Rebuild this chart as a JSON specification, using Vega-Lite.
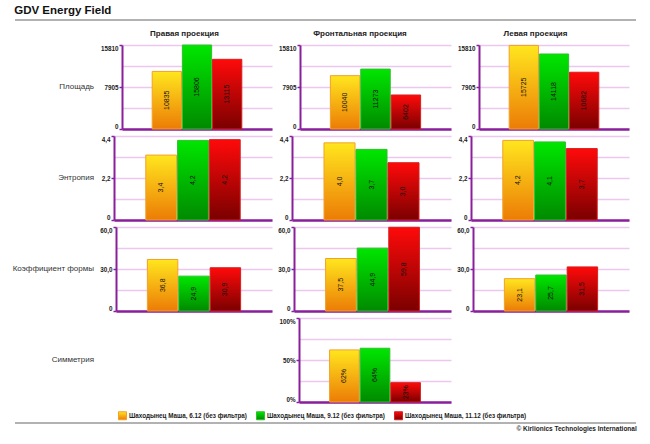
{
  "$schema": "https://vega.github.io/schema/vega-lite/v6.json",
  "padding": {"left": 12, "top": 4, "right": 4, "bottom": 2},
  "params": [
    {"name": "gY", "expr": "{gradient: 'linear', x1: 0, y1: 0, x2: 0, y2: 1, stops: [{offset: 0, color: '#ffe61e'}, {offset: 1, color: '#ec7c06'}]}"},
    {"name": "gG", "expr": "{gradient: 'linear', x1: 0, y1: 0, x2: 0, y2: 1, stops: [{offset: 0, color: '#00e600'}, {offset: 1, color: '#008a00'}]}"},
    {"name": "gR", "expr": "{gradient: 'linear', x1: 0, y1: 0, x2: 0, y2: 1, stops: [{offset: 0, color: '#ff0a0a'}, {offset: 1, color: '#7a0000'}]}"}
  ],
  "datasets": {
    "gdv": [
      {"metric": "Площадь", "proj": "Правая проекция", "series": "6.12", "value": 10835},
      {"metric": "Площадь", "proj": "Правая проекция", "series": "9.12", "value": 15806},
      {"metric": "Площадь", "proj": "Правая проекция", "series": "11.12", "value": 13115},
      {"metric": "Площадь", "proj": "Фронтальная проекция", "series": "6.12", "value": 10040},
      {"metric": "Площадь", "proj": "Фронтальная проекция", "series": "9.12", "value": 11273},
      {"metric": "Площадь", "proj": "Фронтальная проекция", "series": "11.12", "value": 6402},
      {"metric": "Площадь", "proj": "Левая проекция", "series": "6.12", "value": 15725},
      {"metric": "Площадь", "proj": "Левая проекция", "series": "9.12", "value": 14118},
      {"metric": "Площадь", "proj": "Левая проекция", "series": "11.12", "value": 10682},
      {"metric": "Энтропия", "proj": "Правая проекция", "series": "6.12", "value": 3.4},
      {"metric": "Энтропия", "proj": "Правая проекция", "series": "9.12", "value": 4.17},
      {"metric": "Энтропия", "proj": "Правая проекция", "series": "11.12", "value": 4.21},
      {"metric": "Энтропия", "proj": "Фронтальная проекция", "series": "6.12", "value": 4.04},
      {"metric": "Энтропия", "proj": "Фронтальная проекция", "series": "9.12", "value": 3.7},
      {"metric": "Энтропия", "proj": "Фронтальная проекция", "series": "11.12", "value": 3.0},
      {"metric": "Энтропия", "proj": "Левая проекция", "series": "6.12", "value": 4.17},
      {"metric": "Энтропия", "proj": "Левая проекция", "series": "9.12", "value": 4.09},
      {"metric": "Энтропия", "proj": "Левая проекция", "series": "11.12", "value": 3.74},
      {"metric": "Коэффициент формы", "proj": "Правая проекция", "series": "6.12", "value": 36.8},
      {"metric": "Коэффициент формы", "proj": "Правая проекция", "series": "9.12", "value": 24.9},
      {"metric": "Коэффициент формы", "proj": "Правая проекция", "series": "11.12", "value": 30.9},
      {"metric": "Коэффициент формы", "proj": "Фронтальная проекция", "series": "6.12", "value": 37.5},
      {"metric": "Коэффициент формы", "proj": "Фронтальная проекция", "series": "9.12", "value": 44.9},
      {"metric": "Коэффициент формы", "proj": "Фронтальная проекция", "series": "11.12", "value": 59.8},
      {"metric": "Коэффициент формы", "proj": "Левая проекция", "series": "6.12", "value": 23.1},
      {"metric": "Коэффициент формы", "proj": "Левая проекция", "series": "9.12", "value": 25.7},
      {"metric": "Коэффициент формы", "proj": "Левая проекция", "series": "11.12", "value": 31.5},
      {"metric": "Симметрия", "proj": "Фронтальная проекция", "series": "6.12", "value": 0.62},
      {"metric": "Симметрия", "proj": "Фронтальная проекция", "series": "9.12", "value": 0.64},
      {"metric": "Симметрия", "proj": "Фронтальная проекция", "series": "11.12", "value": 0.23}
    ]
  },
  "spacing": 0,
  "vconcat": [
    {
      "width": 621,
      "height": 8,
      "title": {"text": "GDV Energy Field", "anchor": "start", "fontSize": 11.5, "fontWeight": "bold", "color": "#111111", "offset": 3},
      "data": {"values": [{"a": 0, "b": 1}]},
      "mark": {"type": "rule", "color": "#999999", "strokeWidth": 1.5},
      "encoding": {
        "x": {"field": "a", "type": "quantitative", "scale": {"domain": [0, 1]}, "axis": null},
        "x2": {"field": "b"},
        "y": {"datum": 1, "type": "quantitative", "scale": {"domain": [0, 1]}, "axis": null}
      }
    },
    {
      "spacing": 5,
      "vconcat": [
        {
          "spacing": 3,
          "hconcat": [
            {"width": 79, "height": 8, "data": {"values": [{}]}, "mark": {"type": "text", "text": ""}},
            {"width": 175, "height": 8, "data": {"values": [{}]}, "mark": {"type": "text", "text": "Правая проекция", "fontSize": 8, "fontWeight": "bold", "color": "#222222"}},
            {"width": 176, "height": 8, "data": {"values": [{}]}, "mark": {"type": "text", "text": "Фронтальная проекция", "fontSize": 8, "fontWeight": "bold", "color": "#222222", "dx": -3}},
            {"width": 175, "height": 8, "data": {"values": [{}]}, "mark": {"type": "text", "text": "Левая проекция", "fontSize": 8, "fontWeight": "bold", "color": "#222222", "dx": -6}}
          ]
        },
        {
          "spacing": 3,
          "hconcat": [
            {"width": 79, "height": 84, "data": {"values": [{}]}, "mark": {"type": "text", "text": "Площадь", "align": "right", "fontSize": 8, "color": "#333333"},
             "encoding": {"x": {"datum": 1, "type": "quantitative", "scale": {"domain": [0, 1]}, "axis": null}}},
            {
              "width": 150, "height": 84,
              "data": {"name": "gdv"},
              "transform": [{"filter": "datum.metric == 'Площадь' && datum.proj == 'Правая проекция'"}],
              "encoding": {"x": {"field": "series", "type": "nominal", "sort": null, "title": null, "scale": {"paddingInner": 0.03, "paddingOuter": 1.05}}},
              "layer": [
                {"mark": {"type": "bar", "strokeWidth": 1},
                 "encoding": {
                   "y": {"field": "value", "type": "quantitative", "title": null, "scale": {"domain": [0, 15810], "nice": false},
                         "axis": {"values": [0, 3952.5, 7905, 11857.5, 15810], "format": "d", "minExtent": 25, "maxExtent": 25,
                                  "labelExpr": "datum.index == 0.25 || datum.index == 0.75 ? '' : datum.label",
                                  "tickOpacity": {"condition": {"test": "datum.index == 0.25 || datum.index == 0.75", "value": 0}, "value": 1}}},
                   "color": {"field": "series", "type": "nominal", "title": null, "scale": {"domain": ["6.12", "9.12", "11.12"], "range": [{"expr": "gY"}, {"expr": "gG"}, {"expr": "gR"}]},
                             "legend": {"labelExpr": "'Шаходынец Маша, ' + datum.label + ' (без фильтра)'", "orient": "none", "legendX": 103, "legendY": 381}},
                   "stroke": {"field": "series", "type": "nominal", "title": null, "scale": {"domain": ["6.12", "9.12", "11.12"], "range": ["#f3a02a", "#2fbf2f", "#d81e1e"]},
                              "legend": {"labelExpr": "'Шаходынец Маша, ' + datum.label + ' (без фильтра)'", "orient": "none", "legendX": 103, "legendY": 381}}
                 }},
                {"mark": {"type": "text", "angle": 270, "fontSize": 7, "color": "#111111"},
                 "encoding": {
                   "y": {"field": "value", "type": "quantitative", "scale": {"domain": [0, 31620], "nice": false}, "axis": null},
                   "text": {"field": "value", "type": "quantitative", "format": "d"}
                 }}
              ],
              "resolve": {"scale": {"y": "independent"}}
            },
            {
              "width": 151, "height": 84,
              "data": {"name": "gdv"},
              "transform": [{"filter": "datum.metric == 'Площадь' && datum.proj == 'Фронтальная проекция'"}],
              "encoding": {"x": {"field": "series", "type": "nominal", "sort": null, "title": null, "scale": {"paddingInner": 0.03, "paddingOuter": 1.05}}},
              "layer": [
                {"mark": {"type": "bar", "strokeWidth": 1},
                 "encoding": {
                   "y": {"field": "value", "type": "quantitative", "title": null, "scale": {"domain": [0, 15810], "nice": false},
                         "axis": {"values": [0, 3952.5, 7905, 11857.5, 15810], "format": "d", "minExtent": 25, "maxExtent": 25,
                                  "labelExpr": "datum.index == 0.25 || datum.index == 0.75 ? '' : datum.label",
                                  "tickOpacity": {"condition": {"test": "datum.index == 0.25 || datum.index == 0.75", "value": 0}, "value": 1}}},
                   "color": {"field": "series", "type": "nominal", "title": null, "scale": {"domain": ["6.12", "9.12", "11.12"], "range": [{"expr": "gY"}, {"expr": "gG"}, {"expr": "gR"}]},
                             "legend": {"labelExpr": "'Шаходынец Маша, ' + datum.label + ' (без фильтра)'", "orient": "none", "legendX": 103, "legendY": 381}},
                   "stroke": {"field": "series", "type": "nominal", "title": null, "scale": {"domain": ["6.12", "9.12", "11.12"], "range": ["#f3a02a", "#2fbf2f", "#d81e1e"]},
                              "legend": {"labelExpr": "'Шаходынец Маша, ' + datum.label + ' (без фильтра)'", "orient": "none", "legendX": 103, "legendY": 381}}
                 }},
                {"mark": {"type": "text", "angle": 270, "fontSize": 7, "color": "#111111"},
                 "encoding": {
                   "y": {"field": "value", "type": "quantitative", "scale": {"domain": [0, 31620], "nice": false}, "axis": null},
                   "text": {"field": "value", "type": "quantitative", "format": "d"}
                 }}
              ],
              "resolve": {"scale": {"y": "independent"}}
            },
            {
              "width": 150, "height": 84,
              "data": {"name": "gdv"},
              "transform": [{"filter": "datum.metric == 'Площадь' && datum.proj == 'Левая проекция'"}],
              "encoding": {"x": {"field": "series", "type": "nominal", "sort": null, "title": null, "scale": {"paddingInner": 0.03, "paddingOuter": 1.05}}},
              "layer": [
                {"mark": {"type": "bar", "strokeWidth": 1},
                 "encoding": {
                   "y": {"field": "value", "type": "quantitative", "title": null, "scale": {"domain": [0, 15810], "nice": false},
                         "axis": {"values": [0, 3952.5, 7905, 11857.5, 15810], "format": "d", "minExtent": 25, "maxExtent": 25,
                                  "labelExpr": "datum.index == 0.25 || datum.index == 0.75 ? '' : datum.label",
                                  "tickOpacity": {"condition": {"test": "datum.index == 0.25 || datum.index == 0.75", "value": 0}, "value": 1}}},
                   "color": {"field": "series", "type": "nominal", "title": null, "scale": {"domain": ["6.12", "9.12", "11.12"], "range": [{"expr": "gY"}, {"expr": "gG"}, {"expr": "gR"}]},
                             "legend": {"labelExpr": "'Шаходынец Маша, ' + datum.label + ' (без фильтра)'", "orient": "none", "legendX": 103, "legendY": 381}},
                   "stroke": {"field": "series", "type": "nominal", "title": null, "scale": {"domain": ["6.12", "9.12", "11.12"], "range": ["#f3a02a", "#2fbf2f", "#d81e1e"]},
                              "legend": {"labelExpr": "'Шаходынец Маша, ' + datum.label + ' (без фильтра)'", "orient": "none", "legendX": 103, "legendY": 381}}
                 }},
                {"mark": {"type": "text", "angle": 270, "fontSize": 7, "color": "#111111"},
                 "encoding": {
                   "y": {"field": "value", "type": "quantitative", "scale": {"domain": [0, 31620], "nice": false}, "axis": null},
                   "text": {"field": "value", "type": "quantitative", "format": "d"}
                 }}
              ],
              "resolve": {"scale": {"y": "independent"}}
            }
          ]
        },
        {
          "spacing": 3,
          "hconcat": [
            {"width": 79, "height": 84, "data": {"values": [{}]}, "mark": {"type": "text", "text": "Энтропия", "align": "right", "fontSize": 8, "color": "#333333"},
             "encoding": {"x": {"datum": 1, "type": "quantitative", "scale": {"domain": [0, 1]}, "axis": null}}},
            {
              "width": 158, "height": 84,
              "data": {"name": "gdv"},
              "transform": [{"filter": "datum.metric == 'Энтропия' && datum.proj == 'Правая проекция'"}],
              "encoding": {"x": {"field": "series", "type": "nominal", "sort": null, "title": null, "scale": {"paddingInner": 0.03, "paddingOuter": 1.05}}},
              "layer": [
                {"mark": {"type": "bar", "strokeWidth": 1},
                 "encoding": {
                   "y": {"field": "value", "type": "quantitative", "title": null, "scale": {"domain": [0, 4.4], "nice": false},
                         "axis": {"values": [0, 1.1, 2.2, 3.3, 4.4], "format": ".1f", "minExtent": 17, "maxExtent": 17,
                                  "labelExpr": "datum.index == 0 ? '0' : datum.index == 0.25 || datum.index == 0.75 ? '' : datum.label",
                                  "tickOpacity": {"condition": {"test": "datum.index == 0.25 || datum.index == 0.75", "value": 0}, "value": 1}}},
                   "color": {"field": "series", "type": "nominal", "title": null, "scale": {"domain": ["6.12", "9.12", "11.12"], "range": [{"expr": "gY"}, {"expr": "gG"}, {"expr": "gR"}]},
                             "legend": {"labelExpr": "'Шаходынец Маша, ' + datum.label + ' (без фильтра)'", "orient": "none", "legendX": 103, "legendY": 381}},
                   "stroke": {"field": "series", "type": "nominal", "title": null, "scale": {"domain": ["6.12", "9.12", "11.12"], "range": ["#f3a02a", "#2fbf2f", "#d81e1e"]},
                              "legend": {"labelExpr": "'Шаходынец Маша, ' + datum.label + ' (без фильтра)'", "orient": "none", "legendX": 103, "legendY": 381}}
                 }},
                {"mark": {"type": "text", "angle": 270, "fontSize": 7, "color": "#111111"},
                 "encoding": {
                   "y": {"field": "value", "type": "quantitative", "scale": {"domain": [0, 8.8], "nice": false}, "axis": null},
                   "text": {"field": "value", "type": "quantitative", "format": ".1f"}
                 }}
              ],
              "resolve": {"scale": {"y": "independent"}}
            },
            {
              "width": 159, "height": 84,
              "data": {"name": "gdv"},
              "transform": [{"filter": "datum.metric == 'Энтропия' && datum.proj == 'Фронтальная проекция'"}],
              "encoding": {"x": {"field": "series", "type": "nominal", "sort": null, "title": null, "scale": {"paddingInner": 0.03, "paddingOuter": 1.05}}},
              "layer": [
                {"mark": {"type": "bar", "strokeWidth": 1},
                 "encoding": {
                   "y": {"field": "value", "type": "quantitative", "title": null, "scale": {"domain": [0, 4.4], "nice": false},
                         "axis": {"values": [0, 1.1, 2.2, 3.3, 4.4], "format": ".1f", "minExtent": 17, "maxExtent": 17,
                                  "labelExpr": "datum.index == 0 ? '0' : datum.index == 0.25 || datum.index == 0.75 ? '' : datum.label",
                                  "tickOpacity": {"condition": {"test": "datum.index == 0.25 || datum.index == 0.75", "value": 0}, "value": 1}}},
                   "color": {"field": "series", "type": "nominal", "title": null, "scale": {"domain": ["6.12", "9.12", "11.12"], "range": [{"expr": "gY"}, {"expr": "gG"}, {"expr": "gR"}]},
                             "legend": {"labelExpr": "'Шаходынец Маша, ' + datum.label + ' (без фильтра)'", "orient": "none", "legendX": 103, "legendY": 381}},
                   "stroke": {"field": "series", "type": "nominal", "title": null, "scale": {"domain": ["6.12", "9.12", "11.12"], "range": ["#f3a02a", "#2fbf2f", "#d81e1e"]},
                              "legend": {"labelExpr": "'Шаходынец Маша, ' + datum.label + ' (без фильтра)'", "orient": "none", "legendX": 103, "legendY": 381}}
                 }},
                {"mark": {"type": "text", "angle": 270, "fontSize": 7, "color": "#111111"},
                 "encoding": {
                   "y": {"field": "value", "type": "quantitative", "scale": {"domain": [0, 8.8], "nice": false}, "axis": null},
                   "text": {"field": "value", "type": "quantitative", "format": ".1f"}
                 }}
              ],
              "resolve": {"scale": {"y": "independent"}}
            },
            {
              "width": 158, "height": 84,
              "data": {"name": "gdv"},
              "transform": [{"filter": "datum.metric == 'Энтропия' && datum.proj == 'Левая проекция'"}],
              "encoding": {"x": {"field": "series", "type": "nominal", "sort": null, "title": null, "scale": {"paddingInner": 0.03, "paddingOuter": 1.05}}},
              "layer": [
                {"mark": {"type": "bar", "strokeWidth": 1},
                 "encoding": {
                   "y": {"field": "value", "type": "quantitative", "title": null, "scale": {"domain": [0, 4.4], "nice": false},
                         "axis": {"values": [0, 1.1, 2.2, 3.3, 4.4], "format": ".1f", "minExtent": 17, "maxExtent": 17,
                                  "labelExpr": "datum.index == 0 ? '0' : datum.index == 0.25 || datum.index == 0.75 ? '' : datum.label",
                                  "tickOpacity": {"condition": {"test": "datum.index == 0.25 || datum.index == 0.75", "value": 0}, "value": 1}}},
                   "color": {"field": "series", "type": "nominal", "title": null, "scale": {"domain": ["6.12", "9.12", "11.12"], "range": [{"expr": "gY"}, {"expr": "gG"}, {"expr": "gR"}]},
                             "legend": {"labelExpr": "'Шаходынец Маша, ' + datum.label + ' (без фильтра)'", "orient": "none", "legendX": 103, "legendY": 381}},
                   "stroke": {"field": "series", "type": "nominal", "title": null, "scale": {"domain": ["6.12", "9.12", "11.12"], "range": ["#f3a02a", "#2fbf2f", "#d81e1e"]},
                              "legend": {"labelExpr": "'Шаходынец Маша, ' + datum.label + ' (без фильтра)'", "orient": "none", "legendX": 103, "legendY": 381}}
                 }},
                {"mark": {"type": "text", "angle": 270, "fontSize": 7, "color": "#111111"},
                 "encoding": {
                   "y": {"field": "value", "type": "quantitative", "scale": {"domain": [0, 8.8], "nice": false}, "axis": null},
                   "text": {"field": "value", "type": "quantitative", "format": ".1f"}
                 }}
              ],
              "resolve": {"scale": {"y": "independent"}}
            }
          ]
        },
        {
          "spacing": 3,
          "hconcat": [
            {"width": 79, "height": 84, "data": {"values": [{}]}, "mark": {"type": "text", "text": "Коэффициент формы", "align": "right", "fontSize": 8, "color": "#333333"},
             "encoding": {"x": {"datum": 1, "type": "quantitative", "scale": {"domain": [0, 1]}, "axis": null}}},
            {
              "width": 156, "height": 84,
              "data": {"name": "gdv"},
              "transform": [{"filter": "datum.metric == 'Коэффициент формы' && datum.proj == 'Правая проекция'"}],
              "encoding": {"x": {"field": "series", "type": "nominal", "sort": null, "title": null, "scale": {"paddingInner": 0.03, "paddingOuter": 1.05}}},
              "layer": [
                {"mark": {"type": "bar", "strokeWidth": 1},
                 "encoding": {
                   "y": {"field": "value", "type": "quantitative", "title": null, "scale": {"domain": [0, 60], "nice": false},
                         "axis": {"values": [0, 15, 30, 45, 60], "format": ".1f", "minExtent": 19, "maxExtent": 19,
                                  "labelExpr": "datum.index == 0 ? '0' : datum.index == 0.25 || datum.index == 0.75 ? '' : datum.label",
                                  "tickOpacity": {"condition": {"test": "datum.index == 0.25 || datum.index == 0.75", "value": 0}, "value": 1}}},
                   "color": {"field": "series", "type": "nominal", "title": null, "scale": {"domain": ["6.12", "9.12", "11.12"], "range": [{"expr": "gY"}, {"expr": "gG"}, {"expr": "gR"}]},
                             "legend": {"labelExpr": "'Шаходынец Маша, ' + datum.label + ' (без фильтра)'", "orient": "none", "legendX": 103, "legendY": 381}},
                   "stroke": {"field": "series", "type": "nominal", "title": null, "scale": {"domain": ["6.12", "9.12", "11.12"], "range": ["#f3a02a", "#2fbf2f", "#d81e1e"]},
                              "legend": {"labelExpr": "'Шаходынец Маша, ' + datum.label + ' (без фильтра)'", "orient": "none", "legendX": 103, "legendY": 381}}
                 }},
                {"mark": {"type": "text", "angle": 270, "fontSize": 7, "color": "#111111"},
                 "encoding": {
                   "y": {"field": "value", "type": "quantitative", "scale": {"domain": [0, 120], "nice": false}, "axis": null},
                   "text": {"field": "value", "type": "quantitative", "format": ".1f"}
                 }}
              ],
              "resolve": {"scale": {"y": "independent"}}
            },
            {
              "width": 157, "height": 84,
              "data": {"name": "gdv"},
              "transform": [{"filter": "datum.metric == 'Коэффициент формы' && datum.proj == 'Фронтальная проекция'"}],
              "encoding": {"x": {"field": "series", "type": "nominal", "sort": null, "title": null, "scale": {"paddingInner": 0.03, "paddingOuter": 1.05}}},
              "layer": [
                {"mark": {"type": "bar", "strokeWidth": 1},
                 "encoding": {
                   "y": {"field": "value", "type": "quantitative", "title": null, "scale": {"domain": [0, 60], "nice": false},
                         "axis": {"values": [0, 15, 30, 45, 60], "format": ".1f", "minExtent": 19, "maxExtent": 19,
                                  "labelExpr": "datum.index == 0 ? '0' : datum.index == 0.25 || datum.index == 0.75 ? '' : datum.label",
                                  "tickOpacity": {"condition": {"test": "datum.index == 0.25 || datum.index == 0.75", "value": 0}, "value": 1}}},
                   "color": {"field": "series", "type": "nominal", "title": null, "scale": {"domain": ["6.12", "9.12", "11.12"], "range": [{"expr": "gY"}, {"expr": "gG"}, {"expr": "gR"}]},
                             "legend": {"labelExpr": "'Шаходынец Маша, ' + datum.label + ' (без фильтра)'", "orient": "none", "legendX": 103, "legendY": 381}},
                   "stroke": {"field": "series", "type": "nominal", "title": null, "scale": {"domain": ["6.12", "9.12", "11.12"], "range": ["#f3a02a", "#2fbf2f", "#d81e1e"]},
                              "legend": {"labelExpr": "'Шаходынец Маша, ' + datum.label + ' (без фильтра)'", "orient": "none", "legendX": 103, "legendY": 381}}
                 }},
                {"mark": {"type": "text", "angle": 270, "fontSize": 7, "color": "#111111"},
                 "encoding": {
                   "y": {"field": "value", "type": "quantitative", "scale": {"domain": [0, 120], "nice": false}, "axis": null},
                   "text": {"field": "value", "type": "quantitative", "format": ".1f"}
                 }}
              ],
              "resolve": {"scale": {"y": "independent"}}
            },
            {
              "width": 156, "height": 84,
              "data": {"name": "gdv"},
              "transform": [{"filter": "datum.metric == 'Коэффициент формы' && datum.proj == 'Левая проекция'"}],
              "encoding": {"x": {"field": "series", "type": "nominal", "sort": null, "title": null, "scale": {"paddingInner": 0.03, "paddingOuter": 1.05}}},
              "layer": [
                {"mark": {"type": "bar", "strokeWidth": 1},
                 "encoding": {
                   "y": {"field": "value", "type": "quantitative", "title": null, "scale": {"domain": [0, 60], "nice": false},
                         "axis": {"values": [0, 15, 30, 45, 60], "format": ".1f", "minExtent": 19, "maxExtent": 19,
                                  "labelExpr": "datum.index == 0 ? '0' : datum.index == 0.25 || datum.index == 0.75 ? '' : datum.label",
                                  "tickOpacity": {"condition": {"test": "datum.index == 0.25 || datum.index == 0.75", "value": 0}, "value": 1}}},
                   "color": {"field": "series", "type": "nominal", "title": null, "scale": {"domain": ["6.12", "9.12", "11.12"], "range": [{"expr": "gY"}, {"expr": "gG"}, {"expr": "gR"}]},
                             "legend": {"labelExpr": "'Шаходынец Маша, ' + datum.label + ' (без фильтра)'", "orient": "none", "legendX": 103, "legendY": 381}},
                   "stroke": {"field": "series", "type": "nominal", "title": null, "scale": {"domain": ["6.12", "9.12", "11.12"], "range": ["#f3a02a", "#2fbf2f", "#d81e1e"]},
                              "legend": {"labelExpr": "'Шаходынец Маша, ' + datum.label + ' (без фильтра)'", "orient": "none", "legendX": 103, "legendY": 381}}
                 }},
                {"mark": {"type": "text", "angle": 270, "fontSize": 7, "color": "#111111"},
                 "encoding": {
                   "y": {"field": "value", "type": "quantitative", "scale": {"domain": [0, 120], "nice": false}, "axis": null},
                   "text": {"field": "value", "type": "quantitative", "format": ".1f"}
                 }}
              ],
              "resolve": {"scale": {"y": "independent"}}
            }
          ]
        },
        {
          "spacing": 3,
          "hconcat": [
            {"width": 79, "height": 84, "data": {"values": [{}]}, "mark": {"type": "text", "text": "Симметрия", "align": "right", "fontSize": 8, "color": "#333333"},
             "encoding": {"x": {"datum": 1, "type": "quantitative", "scale": {"domain": [0, 1]}, "axis": null}}},
            {"width": 175, "height": 84, "data": {"values": [{}]}, "mark": {"type": "text", "text": ""}},
            {
              "width": 152, "height": 84,
              "data": {"name": "gdv"},
              "transform": [{"filter": "datum.metric == 'Симметрия' && datum.proj == 'Фронтальная проекция'"}],
              "encoding": {"x": {"field": "series", "type": "nominal", "sort": null, "title": null, "scale": {"paddingInner": 0.03, "paddingOuter": 1.05}}},
              "layer": [
                {"mark": {"type": "bar", "strokeWidth": 1},
                 "encoding": {
                   "y": {"field": "value", "type": "quantitative", "title": null, "scale": {"domain": [0, 1], "nice": false},
                         "axis": {"values": [0, 0.25, 0.5, 0.75, 1], "format": ".0%", "minExtent": 24, "maxExtent": 24,
                                  "labelExpr": "datum.index == 0.25 || datum.index == 0.75 ? '' : datum.label",
                                  "tickOpacity": {"condition": {"test": "datum.index == 0.25 || datum.index == 0.75", "value": 0}, "value": 1}}},
                   "color": {"field": "series", "type": "nominal", "title": null, "scale": {"domain": ["6.12", "9.12", "11.12"], "range": [{"expr": "gY"}, {"expr": "gG"}, {"expr": "gR"}]},
                             "legend": {"labelExpr": "'Шаходынец Маша, ' + datum.label + ' (без фильтра)'", "orient": "none", "legendX": 103, "legendY": 381}},
                   "stroke": {"field": "series", "type": "nominal", "title": null, "scale": {"domain": ["6.12", "9.12", "11.12"], "range": ["#f3a02a", "#2fbf2f", "#d81e1e"]},
                              "legend": {"labelExpr": "'Шаходынец Маша, ' + datum.label + ' (без фильтра)'", "orient": "none", "legendX": 103, "legendY": 381}}
                 }},
                {"mark": {"type": "text", "angle": 270, "fontSize": 7, "color": "#111111"},
                 "encoding": {
                   "y": {"field": "value", "type": "quantitative", "scale": {"domain": [0, 2], "nice": false}, "axis": null},
                   "text": {"field": "value", "type": "quantitative", "format": ".0%"}
                 }}
              ],
              "resolve": {"scale": {"y": "independent"}}
            }
          ]
        }
      ]
    },
    {
      "width": 621,
      "height": 1,
      "title": {"text": "© Kirlionics Technologies International", "orient": "bottom", "anchor": "end", "fontSize": 6.5, "fontWeight": "bold", "color": "#222222", "offset": 2},
      "data": {"values": [{"a": 0, "b": 1}]},
      "mark": {"type": "rule", "color": "#999999", "strokeWidth": 1.5},
      "encoding": {
        "x": {"field": "a", "type": "quantitative", "scale": {"domain": [0, 1]}, "axis": null},
        "x2": {"field": "b"},
        "y": {"datum": 1, "type": "quantitative", "scale": {"domain": [0, 1]}, "axis": null}
      }
    }
  ],
  "resolve": {
    "scale": {"color": "independent", "stroke": "independent"},
    "legend": {"color": "independent", "stroke": "independent"}
  },
  "config": {
    "font": "Liberation Sans",
    "locale": {"number": {"decimal": ",", "thousands": " ", "grouping": [3], "currency": ["", ""]}},
    "view": {"stroke": null},
    "axisY": {
      "domainColor": "#8a1f9c", "domainWidth": 2,
      "tickColor": "#8a1f9c", "tickWidth": 1.5, "tickSize": 3,
      "labelPadding": 1, "labelFontSize": 6.3, "labelFontWeight": "bold", "labelColor": "#222222",
      "labelFlush": true, "labelOverlap": false,
      "gridColor": "#ebc8ef", "gridWidth": 1.5
    },
    "axisX": {"domainColor": "#8a1f9c", "domainWidth": 2.5, "labels": false, "ticks": false, "grid": false},
    "legend": {
      "direction": "horizontal", "symbolType": "square", "symbolSize": 64,
      "symbolStrokeWidth": 1, "labelFontSize": 6.3, "labelFontWeight": "bold", "labelColor": "#222222",
      "labelLimit": 300, "columnPadding": 7, "labelOffset": 2, "padding": 0
    }
  }
}
